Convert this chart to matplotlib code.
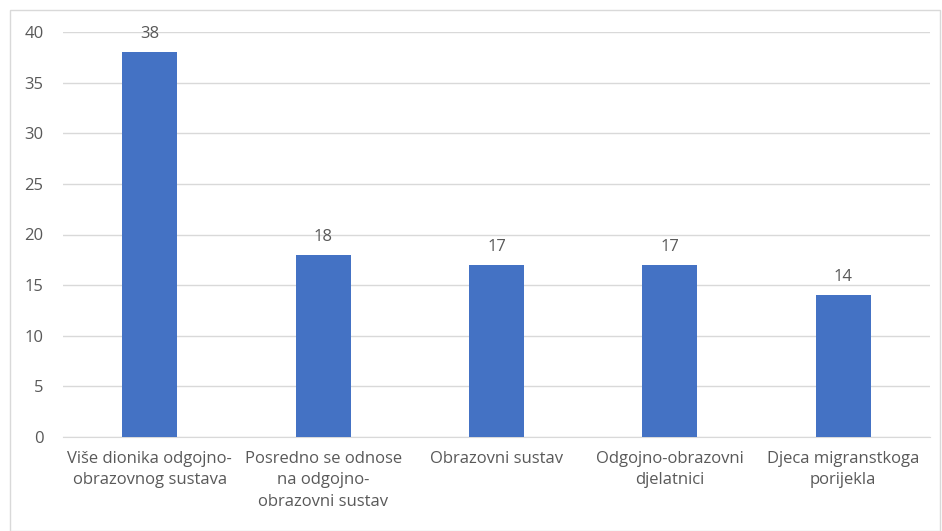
import matplotlib
matplotlib.use("Agg")
import matplotlib.pyplot as plt
from matplotlib.patches import Rectangle

categories = ["Više dionika odgojno-\nobrazovnog sustava",
              "Posredno se odnose\nna odgojno-\nobrazovni sustav",
              "Obrazovni sustav",
              "Odgojno-obrazovni\ndjelatnici",
              "Djeca migranstkoga\nporijekla"]
values = [38, 18, 17, 17, 14]
yticks = [0, 5, 10, 15, 20, 25, 30, 35, 40]

plt.rcParams['font.family'] = ['Open Sans', 'DejaVu Sans']
txt = '#595959'

fig = plt.figure(figsize=(9.42, 5.31), dpi=100)
ax = fig.add_axes([63/942, 1-437/531, (930-63)/942, (437-32)/531])
fig.patches.append(Rectangle((10/942, 0), 930/942, 1-10/531, transform=fig.transFigure,
                             fill=False, edgecolor='#d9d9d9', linewidth=1))

x = list(range(len(values)))
ax.bar(x, values, width=0.317, color='#4472C4', zorder=3)
for xi, v in zip(x, values):
    ax.text(xi, v + 1.0, str(v), ha='center', va='bottom', fontsize=12, color=txt)

ax.set_xlim(-0.5, len(values) - 0.5)
ax.set_ylim(0, 40)
ax.set_yticks(yticks)
ax.set_yticklabels([str(t) for t in yticks])
ax.set_xticks(x)
ax.set_xticklabels(categories, linespacing=1.45)
ax.tick_params(axis='x', length=0, labelsize=12, colors=txt, pad=10)
ax.tick_params(axis='y', length=0, labelsize=12, colors=txt, pad=14)
ax.grid(axis='y', color='#d9d9d9', linewidth=1, zorder=0)
for s in ['top', 'right', 'left']:
    ax.spines[s].set_visible(False)
ax.spines['bottom'].set_color('#d9d9d9')

fig.savefig('out.png', dpi=100)
